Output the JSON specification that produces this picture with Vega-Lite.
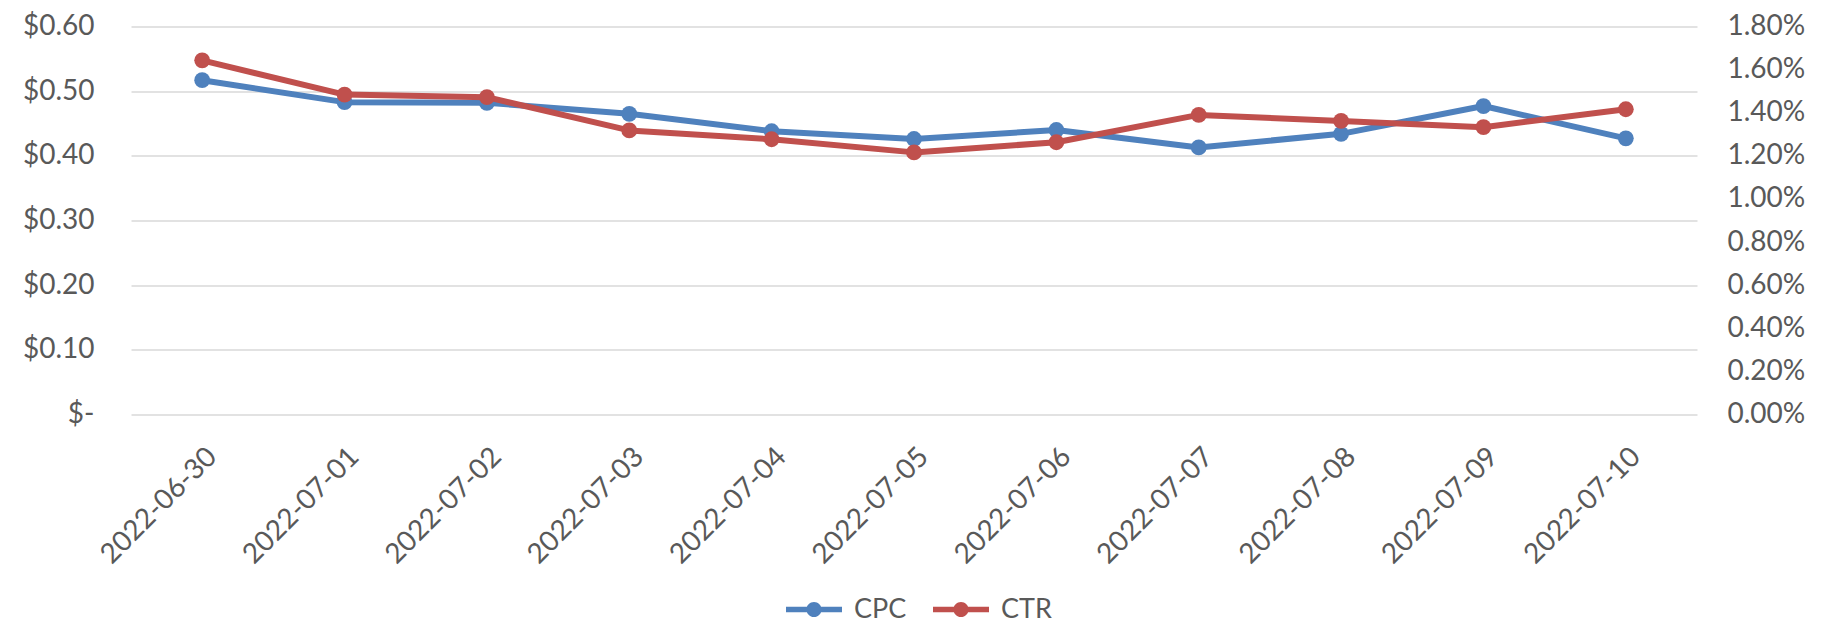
{
  "$schema": "https://vega.github.io/schema/vega-lite/v6.json",
  "width": 1566,
  "height": 388,
  "autosize": {"type": "none"},
  "padding": {"left": 131, "top": 26.5, "right": 131, "bottom": 208.5},
  "background": "white",
  "config": {
    "view": {"stroke": null},
    "axis": {"labelFont": "Lato", "labelFontSize": 28, "labelColor": "#595959", "domain": false, "ticks": false, "gridColor": "#D9D9D9", "gridWidth": 1.5, "title": null}
  },
  "data": {"values": [
    {"date": "2022-06-30", "CPC": 0.517, "CTR": 0.01643},
    {"date": "2022-07-01", "CPC": 0.483, "CTR": 0.01484},
    {"date": "2022-07-02", "CPC": 0.482, "CTR": 0.01472},
    {"date": "2022-07-03", "CPC": 0.465, "CTR": 0.01318},
    {"date": "2022-07-04", "CPC": 0.438, "CTR": 0.01277},
    {"date": "2022-07-05", "CPC": 0.426, "CTR": 0.01216},
    {"date": "2022-07-06", "CPC": 0.440, "CTR": 0.01263},
    {"date": "2022-07-07", "CPC": 0.413, "CTR": 0.01390},
    {"date": "2022-07-08", "CPC": 0.434, "CTR": 0.01362},
    {"date": "2022-07-09", "CPC": 0.477, "CTR": 0.01333},
    {"date": "2022-07-10", "CPC": 0.427, "CTR": 0.01416}
  ]},
  "encoding": {
    "x": {"field": "date", "type": "ordinal", "sort": null, "scale": {"type": "point", "padding": 0.5},
      "axis": {"labelAngle": -45, "labelPadding": 28, "grid": false}}
  },
  "layer": [
    {
      "mark": {"type": "line", "strokeWidth": 6, "strokeCap": "round", "strokeJoin": "round", "point": {"filled": true, "size": 250, "opacity": 1}},
      "encoding": {
        "y": {"field": "CPC", "type": "quantitative", "scale": {"domain": [0, 0.6], "nice": false},
          "axis": {"orient": "left", "values": [0, 0.1, 0.2, 0.3, 0.4, 0.5, 0.6], "grid": true, "labelPadding": 37,
            "labelExpr": "datum.value == 0 ? '$-\u2002' : '$' + format(datum.value, '.2f')"}},
        "color": {"datum": "CPC", "type": "nominal",
          "scale": {"domain": ["CPC", "CTR"], "range": ["#4F81BD", "#C0504D"]},
          "legend": {
            "orient": "none", "legendX": 655, "legendY": 555, "direction": "horizontal", "title": null,
            "symbolType": "M-1,-0.1H1V0.1H-1Z M0.27,0 A0.27,0.27 0 1,1 -0.27,0 A0.27,0.27 0 1,1 0.27,0 Z",
            "symbolSize": 3136, "symbolStrokeWidth": 0,
            "labelFont": "Lato", "labelFontSize": 27, "labelColor": "#595959", "labelOffset": 12, "columnPadding": 26,
            "encode": {"symbols": {"update": {"fill": {"scale": "color", "field": "value"}, "stroke": {"value": "transparent"}, "opacity": {"value": 1}}}}
          }}
      }
    },
    {
      "mark": {"type": "line", "strokeWidth": 6, "strokeCap": "round", "strokeJoin": "round", "point": {"filled": true, "size": 250, "opacity": 1}},
      "encoding": {
        "y": {"field": "CTR", "type": "quantitative", "scale": {"domain": [0, 0.018], "nice": false},
          "axis": {"orient": "right", "values": [0, 0.002, 0.004, 0.006, 0.008, 0.01, 0.012, 0.014, 0.016, 0.018], "grid": false, "labelPadding": 30, "format": ".2%"}},
        "color": {"datum": "CTR", "type": "nominal"}
      }
    }
  ],
  "resolve": {"scale": {"y": "independent"}}
}
